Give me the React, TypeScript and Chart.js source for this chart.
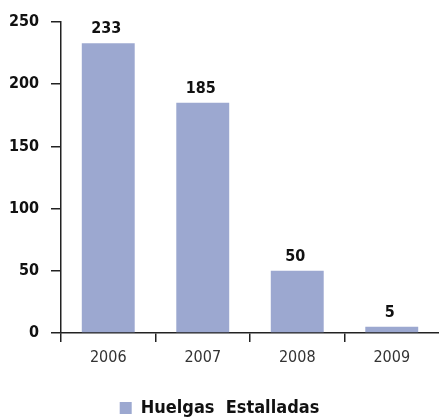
import React, { useEffect, useRef } from "react";
import { Chart, registerables } from "chart.js";

Chart.register(...registerables);

const categories = ["2006", "2007", "2008", "2009"];
const huelgas = [233, 185, 50, 5];
const seriesLabel = "Huelgas  Estalladas";
const yTicks = [0, 50, 100, 150, 200, 250];

const FONT = "'DejaVu Sans Condensed', 'Liberation Sans Narrow', 'Liberation Sans', sans-serif";
const BAR = "#9CA8D0";

const valueLabels = {
  id: "valueLabels",
  afterDatasetsDraw(chart: any) {
    const ctx = chart.ctx;
    const meta = chart.getDatasetMeta(0);
    ctx.save();
    ctx.font = `bold 16px ${FONT}`;
    ctx.fillStyle = "#111";
    ctx.textAlign = "center";
    ctx.textBaseline = "bottom";
    meta.data.forEach((el: any, i: number) => {
      ctx.fillText(String(chart.data.datasets[0].data[i]), el.x - 2, el.y - 6);
    });
    ctx.restore();
  },
};

export default function App() {
  const ref = useRef<HTMLCanvasElement>(null);
  useEffect(() => {
    document.body.style.margin = "0";
    const chart = new Chart(ref.current!, {
      type: "bar",
      data: {
        labels: categories,
        datasets: [
          {
            label: seriesLabel,
            data: huelgas,
            backgroundColor: BAR,
            borderWidth: 0,
            barPercentage: 0.56,
            categoryPercentage: 1,
          },
        ],
      },
      options: {
        animation: false,
        responsive: false,
        layout: { padding: { top: 22, right: 0, left: 0, bottom: -8 } },
        plugins: {
          tooltip: { enabled: false },
          legend: {
            position: "bottom",
            labels: {
              font: { family: FONT, size: 18, weight: "bold" },
              color: "#111",
              boxWidth: 12,
              boxHeight: 12,
              padding: 2,
            },
          },
        },
        scales: {
          x: {
            offset: true,
            afterFit(scale: any) {
              scale.height = 64;
            },
            grid: {
              offset: true,
              drawOnChartArea: false,
              drawTicks: true,
              tickLength: 9,
              color: (c: any) =>
                c.type === "tick" && c.index < categories.length ? "#222" : "rgba(0,0,0,0)",
              lineWidth: 1.5,
            },
            border: { display: true, color: "#222", width: 1.5 },
            ticks: {
              font: { family: FONT, size: 16 },
              color: "#333",
              padding: 6,
            },
          },
          y: {
            min: 0,
            max: 250,
            afterBuildTicks(scale: any) {
              scale.ticks = yTicks.map((v) => ({ value: v }));
            },
            afterFit(scale: any) {
              scale.width = 61;
            },
            grid: {
              drawOnChartArea: false,
              drawTicks: true,
              tickLength: 10,
              color: "#222",
              lineWidth: 1.5,
            },
            border: { display: true, color: "#222", width: 1.5 },
            ticks: {
              font: { family: FONT, size: 16, weight: "bold" },
              color: "#111",
              padding: 12,
            },
          },
        },
      },
      plugins: [valueLabels],
    });
    return () => chart.destroy();
  }, []);
  return (
    <div style={{ width: 439, height: 419 }}>
      <canvas ref={ref} width={439} height={419} style={{ display: "block" }} />
    </div>
  );
}
